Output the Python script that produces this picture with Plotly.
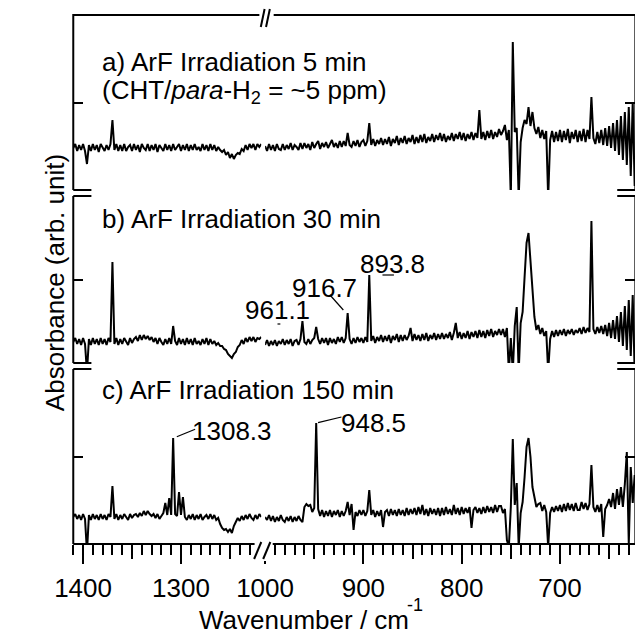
import plotly.graph_objects as go

# ---------------- data (wavenumber / cm-1, absorbance in arb. units) ----------------
# sampling grid of the two spectral windows (cm-1)
wn_hi = [1410, 1408, 1406, 1404, 1402, 1400, 1398, 1396, 1394, 1392,
         1390, 1388, 1386, 1384, 1382, 1380, 1378, 1376, 1374, 1372,
         1370, 1368, 1366, 1364, 1362, 1360, 1358, 1356, 1354, 1352,
         1350, 1348, 1346, 1344, 1342, 1340, 1338, 1336, 1334, 1332,
         1330, 1328, 1326, 1324, 1322, 1320, 1318, 1316, 1314, 1312,
         1310, 1308, 1306, 1304, 1302, 1300, 1298, 1296, 1294, 1292,
         1290, 1288, 1286, 1284, 1282, 1280, 1278, 1276, 1274, 1272,
         1270, 1268, 1266, 1264, 1262, 1260, 1258, 1256, 1254, 1252,
         1250, 1248, 1246, 1244, 1242, 1240, 1238, 1236, 1234, 1232,
         1230, 1228, 1226, 1224, 1222, 1220, 1218]
wn_lo = [1000, 998, 996, 994, 992, 990, 988, 986, 984, 982,
         980, 978, 976, 974, 972, 970, 968, 966, 964, 962,
         960, 958, 956, 954, 952, 950, 948, 946, 944, 942,
         940, 938, 936, 934, 932, 930, 928, 926, 924, 922,
         920, 918, 916, 914, 912, 910, 908, 906, 904, 902,
         900, 898, 896, 894, 892, 890, 888, 886, 884, 882,
         880, 878, 876, 874, 872, 870, 868, 866, 864, 862,
         860, 858, 856, 854, 852, 850, 848, 846, 844, 842,
         840, 838, 836, 834, 832, 830, 828, 826, 824, 822,
         820, 818, 816, 814, 812, 810, 808, 806, 804, 802,
         800, 798, 796, 794, 792, 790, 788, 786, 784, 782,
         780, 778, 776, 774, 772, 770, 768, 766, 764, 762,
         760, 758, 756, 754, 752, 750, 748, 746, 744, 742,
         740, 738, 736, 734, 732, 730, 728, 726, 724, 722,
         720, 718, 716, 714, 712, 710, 708, 706, 704, 702,
         700, 698, 696, 694, 692, 690, 688, 686, 684, 682,
         680, 678, 676, 674, 672, 670, 668, 666, 664, 662,
         660, 658, 656, 654, 652, 650, 648, 646, 644, 642,
         640, 638, 636, 634, 632, 630, 628, 626, 624]

# a) ArF irradiation 5 min
abs_a_hi = [0, 4, -3, 3, -2, 4, -3, -16, 3, -3,
            4, -2, 3, -4, 4, 0, -3, 3, -2, 4,
            28, -2, 4, -3, 3, -3, 4, -3, 1, 3,
            -3, 4, -2, 3, -4, 4, 0, -2, 4, -3,
            3, -2, 4, -4, 3, 0, -3, 4, -2, 3,
            -3, 4, -2, 1, 4, -3, 3, -2, 4, -3,
            3, -2, 4, -2, 1, -3, 4, -2, 3, -3,
            4, -2, 3, -3, 1, -2, -4, -2, -7, -4,
            -10, -6, -11, -7, -5, -6, -1, -3, 3, -2,
            4, 0, 4, -2, 4, 1, 4]
abs_a_lo = [2, -3, 4, -2, 3, -3, 4, -1, -2, 4,
            -2, 3, -1, 5, -2, 3, 1, -2, 5, -1,
            5, 0, 4, -2, 6, 0, 4, 7, -1, 5,
            1, 6, 0, 4, 8, 1, 5, 0, 7, 1,
            7, 2, 15, 3, 1, 7, 2, 8, 1, 6,
            8, 2, 7, 25, 3, 9, 2, 8, 4, 10,
            3, 9, 4, 11, 2, 9, 5, 12, 3, 10,
            5, 12, 4, 10, 6, 13, 4, 11, 5, 13,
            6, 14, 5, 11, 7, 14, 6, 13, 8, 15,
            7, 14, 6, 12, 8, 15, 7, 14, 9, 16,
            8, 15, 7, 14, 9, 16, 8, 15, 10, 38,
            9, 16, 8, 17, 10, 18, 9, 16, 11, 19,
            13, 17, 23, 8, 18, -50, 106, 16, 20, -50,
            6, 20, 28, 24, 41, 22, 36, 20, 14, 21,
            10, 18, 9, 17, -50, 8, 17, 6, 16, 7,
            18, 6, 17, 8, 19, 5, 16, 9, 18, 6,
            17, 7, 19, 6, 18, 9, 51, 10, 4, 16,
            5, 18, 3, 20, 2, 22, 0, 25, -3, 28,
            -7, 32, -12, 36, -17, 41, -28, 46, -38]

# b) ArF irradiation 30 min
abs_b_hi = [0, 4, -2, 3, -3, 4, -2, -30, 3, -3,
            4, -2, 3, -3, 4, -2, 3, -3, 4, 0,
            80, -2, 4, -3, 3, -2, 4, 0, -3, 4,
            -1, 3, 5, 1, 7, 2, 7, 3, 6, 2,
            5, 0, 4, -2, 4, 0, -3, 3, -2, 4,
            -2, 16, 1, -3, 4, -2, 3, -3, 4, -2,
            3, -3, 4, -2, 1, -3, 3, -2, 4, -3,
            3, -2, 1, -3, -1, -4, -4, -7, -8, -12,
            -14, -16, -12, -10, -5, -3, 2, -2, 4, 0,
            5, 1, 5, 0, 4, 3, 5]
abs_b_lo = [-3, 2, -4, 1, -3, 2, -4, 1, -2, 3,
            -3, 2, -2, 3, -4, 1, 2, -3, 3, 21,
            0, -2, 3, -2, 2, 4, 15, 3, -2, 4,
            -1, 4, -3, 4, -1, 3, -2, 5, 0, 5,
            -1, 4, 29, 3, -2, 4, -1, 5, 0, 4,
            -1, 5, 0, 67, 1, 6, -1, 5, 1, 7,
            0, 6, 1, 7, -1, 6, 2, 8, 0, 7,
            1, 7, 2, 6, 14, 1, 8, 2, 7, 1,
            8, 2, 9, 1, 7, 3, 9, 2, 8, 3,
            9, 3, 8, 4, 10, 2, 9, 19, 4, 10,
            3, 9, 4, 11, 3, 10, 5, 11, 4, 12,
            5, 11, 4, 12, 6, 13, 5, 11, 7, 13,
            7, 13, 5, 14, -30, 4, -30, 16, 35, -30,
            19, 30, 65, 99, 109, 82, 50, 25, 12, 17,
            8, 14, 6, 11, -30, 3, 11, 5, 12, 6,
            12, 7, 13, 6, 12, 8, 13, 7, 12, 9,
            14, 8, 15, 9, 14, 10, 121, 13, 8, 15,
            9, 16, 8, 17, 6, 19, 4, 22, 3, 26,
            0, 30, -4, 36, -8, 42, -14, 47, -30]

# c) ArF irradiation 150 min
abs_c_hi = [0, 3, -2, 2, -3, 3, -2, -35, 2, -3,
            3, -2, 2, -3, 3, -2, 2, -3, 3, 0,
            31, -2, 3, -3, 2, -2, 3, 0, -3, 3,
            -1, 2, 3, 0, 4, 1, 6, 2, 6, 3,
            1, 3, -1, 3, -2, 1, 4, 14, 2, 19,
            2, 79, 3, 1, 25, 2, 20, 0, -3, 2,
            -2, 3, -3, 2, -2, 3, -3, 0, 2, -2,
            3, -2, 2, -3, -1, -7, -11, -13, -12, -15,
            -12, -16, -9, -5, -1, -4, 1, -3, 2, -2,
            3, -1, -3, 2, -2, 3, 0]
abs_c_lo = [0, -3, 2, -4, 1, -5, 0, -4, 2, -3,
            -5, 0, -4, 1, -5, 0, -4, 1, -3, -5,
            10, 13, 11, 12, 5, 9, 94, 8, 1, 7,
            0, 6, 1, 7, 0, 6, 2, 7, 0, 6,
            1, 6, 15, 2, 13, -13, 5, 1, 7, 2,
            7, 1, 6, 27, 2, 7, 0, 6, 1, 7,
            -10, 5, 7, 1, 8, 2, 7, 1, 8, 2,
            7, 1, 9, 2, 8, 3, 9, 2, 10, 3,
            12, 2, 8, 1, 9, 3, 8, 2, 9, 1,
            9, 2, 10, 3, 8, 2, 12, 3, 9, 2,
            10, 3, 9, 4, 10, -11, 7, 10, 4, 9,
            3, 10, 4, 11, 5, 10, 4, 12, 5, 11,
            11, 4, 8, -23, -30, 10, 78, 12, 34, -30,
            4, 15, 40, 70, 79, 60, 30, 18, 10, 13,
            14, 6, 12, 5, -30, 4, 10, 5, 11, 6,
            12, 5, 13, 6, 14, 7, 13, 6, 14, 7,
            7, 15, 8, 14, 7, 13, 52, 10, 5, 12,
            5, 13, -20, 8, 12, 18, 10, 24, 8, 28,
            12, 30, 10, 33, 65, -27, 50, 14, 42]

panel_titles = ["a) ArF Irradiation 5 min", "b) ArF Irradiation 30 min",
                "c) ArF Irradiation 150 min"]
panel_note = "(CHT/<i>para</i>-H<sub>2</sub> = ~5 ppm)"
peak_labels = ["893.8", "916.7", "961.1", "1308.3", "948.5"]
xticks_hi = [1400, 1300]
xticks_lo = [1000, 900, 800, 700]
xmid_hi = [1350, 1250]
xmid_lo = [950, 850, 750, 650]
x_title = "Wavenumber / cm"
x_title_exp = "-1"
y_title = "Absorbance (arb. unit)"

# ---------------- layout helpers (reference pixel -> paper) ----------------
OFF = 8                      # page body margin of the html page
W, H = 643 - OFF, 634 - OFF
def fx(p): return (p - OFF) / W
def fy(p): return 1 - (p - OFF) / H

FONT = "Liberation Sans, Arial, Helvetica, sans-serif"
FS = 26
XL = (46, 243)     # left x window (px)
XR = (247, 635)    # right x window (px)
ROWS = [(15, 190), (196, 363), (369, 544)]
YRANGES = [[-42, 133], [-21, 146], [-27, 148]]
YTICK = [45, 62, 60]
XRANGE_HI = [1410, 1218]
XRANGE_LO = [1000, 623.3]

fig = go.Figure()
spectra = [(abs_a_hi, abs_a_lo), (abs_b_hi, abs_b_lo), (abs_c_hi, abs_c_lo)]
ynames = ["y", "y2", "y3"]
line = dict(color="black", width=2)
for (a_hi, a_lo), yn in zip(spectra, ynames):
    fig.add_trace(go.Scatter(x=wn_hi, y=a_hi, xaxis="x", yaxis=yn, mode="lines",
                             line=line, showlegend=False, hoverinfo="skip"))
    fig.add_trace(go.Scatter(x=wn_lo, y=a_lo, xaxis="x2", yaxis=yn, mode="lines",
                             line=line, showlegend=False, hoverinfo="skip"))
# empty helper traces so that the overlay (tick-only) axes are drawn
for xa, ya in [("x3", "y3"), ("x4", "y3"), ("x2", "y4"), ("x2", "y5"), ("x2", "y6")]:
    fig.add_trace(go.Scatter(x=[None], y=[None], xaxis=xa, yaxis=ya, mode="lines",
                             showlegend=False, hoverinfo="skip"))

common_x = dict(showgrid=False, zeroline=False, showline=False, ticks="outside",
                tickwidth=2, tickcolor="black", anchor="y3",
                tickfont=dict(family=FONT, size=FS, color="black"))
minor = dict(ticks="outside", ticklen=10, tickwidth=2, tickcolor="black",
             tickmode="linear", tick0=0, dtick=10, showgrid=False)
layout = dict(
    width=W, height=H, margin=dict(l=0, r=0, t=0, b=0),
    paper_bgcolor="white", plot_bgcolor="rgba(0,0,0,0)",
    xaxis=dict(domain=[fx(XL[0]), fx(XL[1])], range=XRANGE_HI, tickmode="array",
               tickvals=xticks_hi, ticklen=19, minor=minor, ticklabelstandoff=2,
               **common_x),
    xaxis2=dict(domain=[fx(XR[0]), fx(XR[1])], range=XRANGE_LO, tickmode="array",
                tickvals=xticks_lo, ticklen=19, minor=minor, ticklabelstandoff=2,
                **common_x),
    xaxis3=dict(overlaying="x", range=XRANGE_HI, tickmode="array", tickvals=xmid_hi,
                ticklen=14, showticklabels=False, **common_x),
    xaxis4=dict(overlaying="x2", range=XRANGE_LO, tickmode="array", tickvals=xmid_lo,
                ticklen=14, showticklabels=False, **common_x),
)
for i, (r, yr, yt) in enumerate(zip(ROWS, YRANGES, YTICK)):
    base = dict(range=yr, tickmode="array", tickvals=[yt], ticks="inside", ticklen=10,
                tickwidth=2, tickcolor="black", showticklabels=False, showgrid=False,
                zeroline=False, showline=False)
    key = "yaxis" if i == 0 else f"yaxis{i + 1}"
    layout[key] = dict(domain=[fy(r[1]), fy(r[0])], anchor="x", **base)
    layout[f"yaxis{i + 4}"] = dict(overlaying=ynames[i], anchor="x2", side="right", **base)
fig.update_layout(**layout)

# ---------------- frame and axis breaks ----------------
shapes = []
def seg(x0, y0, x1, y1, w=2):
    shapes.append(dict(type="line", xref="paper", yref="paper", x0=fx(x0), y0=fy(y0),
                       x1=fx(x1), y1=fy(y1), line=dict(color="black", width=w),
                       layer="above"))
shapes.append(dict(type="rect", xref="paper", yref="paper", x0=fx(235), x1=fx(255),
                   y0=fy(561), y1=fy(539), fillcolor="white", line=dict(width=0),
                   layer="above"))
seg(46, 15, 241, 15); seg(256, 15, 635, 15)
seg(242.5, 27, 246.5, 9); seg(248, 27, 252, 9)
seg(46, 544, 236, 544); seg(255, 544, 635, 544)
seg(235.5, 559, 243, 542); seg(245, 559, 252.5, 542)
for (t, b) in ROWS:
    seg(46, t - (1 if t == 15 else 0), 46, b)
    seg(635, t - (1 if t == 15 else 0), 635, b)
for yb in (190, 196, 363, 369):
    seg(46, yb, 65, yb)
    seg(616, yb, 635, yb)
# label leader lines
seg(315, 295, 329, 310, 1.2)
seg(370, 275, 382, 275, 1.2)
seg(260, 324, 263, 324, 1.2)
seg(154.5, 436.7, 173.7, 429.3, 1.2)
seg(302.5, 422.7, 327, 417, 1.2)
fig.update_layout(shapes=shapes)

# ---------------- texts ----------------
ann = []
def txt(s, x, y, xanchor="left", angle=0, size=FS):
    ann.append(dict(text=s, x=fx(x), y=fy(y), xref="paper", yref="paper",
                    xanchor=xanchor, yanchor="middle", showarrow=False, textangle=angle,
                    font=dict(family=FONT, size=size, color="black")))
txt(panel_titles[0], 74, 62)
txt(panel_note, 74, 91)
txt(panel_titles[1], 74, 219)
txt(panel_titles[2], 74, 390)
txt(peak_labels[0], 380, 264, "center")
txt(peak_labels[1], 309.5, 288, "center")
txt(peak_labels[2], 259.5, 310, "center")
txt(peak_labels[3], 212.5, 431, "center")
txt(peak_labels[4], 360.7, 423, "center")
txt(x_title, 288, 620, "center")
txt(x_title_exp, 394, 605, "left", size=18)
txt(y_title, 27, 283, "center", -90)
fig.update_layout(annotations=ann)

fig.write_html("out.html")
